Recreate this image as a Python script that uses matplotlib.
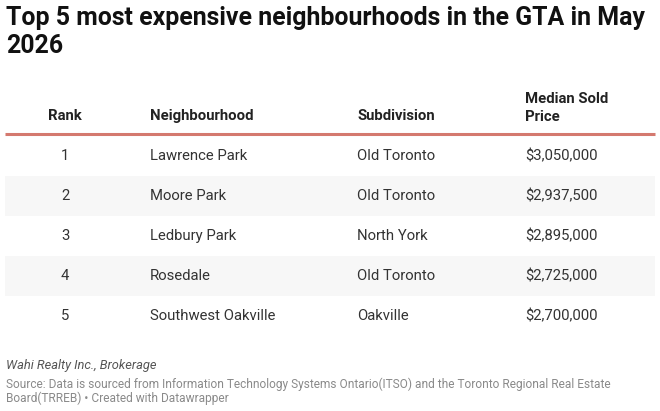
import matplotlib.pyplot as plt
from matplotlib.patches import Rectangle

plt.rcParams['font.family'] = ['Roboto', 'DejaVu Sans']

# Datos de la tabla
rangos = ['1', '2', '3', '4', '5']
barrios = ['Lawrence Park', 'Moore Park', 'Ledbury Park', 'Rosedale', 'Southwest Oakville']
subdivisiones = ['Old Toronto', 'Old Toronto', 'North York', 'Old Toronto', 'Oakville']
precios = ['$3,050,000', '$2,937,500', '$2,895,000', '$2,725,000', '$2,700,000']

titulo = 'Top 5 most expensive neighbourhoods in the GTA in May\n2026'
encabezados = ['Rank', 'Neighbourhood', 'Subdivision', 'Median Sold\nPrice']

fig = plt.figure(figsize=(6.6, 4.11), dpi=100)
ax = fig.add_axes([0, 0, 1, 1])
ax.set_xlim(0, 660)
ax.set_ylim(411, 0)
ax.axis('off')

# Título
ax.text(6, 6, titulo, fontsize=17.9, fontweight='bold', color='#111111',
        va='top', ha='left', linespacing=1.2)

# Encabezados
fs = 10.7
y_enc = 116
ax.text(65, y_enc, encabezados[0], fontsize=fs, fontweight='bold', color='#222222', ha='center', va='center')
ax.text(150, y_enc, encabezados[1], fontsize=fs, fontweight='bold', color='#222222', ha='left', va='center')
ax.text(357, y_enc, encabezados[2], fontsize=fs, fontweight='bold', color='#222222', ha='left', va='center')
ax.text(525, y_enc + 8, encabezados[3], fontsize=fs, fontweight='bold', color='#222222',
        ha='left', va='bottom', linespacing=1.35)

# Línea roja bajo encabezado
ax.plot([5, 655], [134, 134], color='#d4796f', linewidth=2.2, solid_capstyle='butt')

# Filas
alto = 40
y0 = 136
for i in range(len(rangos)):
    top = y0 + i * alto
    if i % 2 == 1:
        ax.add_patch(Rectangle((5, top), 650, alto, facecolor='#f7f7f7', edgecolor='none'))
    yc = top + alto / 2
    ax.text(65, yc, rangos[i], fontsize=fs, color='#333333', ha='center', va='center')
    ax.text(150, yc, barrios[i], fontsize=fs, color='#333333', ha='left', va='center')
    ax.text(357, yc, subdivisiones[i], fontsize=fs, color='#333333', ha='left', va='center')
    ax.text(525, yc, precios[i], fontsize=fs, color='#333333', ha='left', va='center')

# Pie
ax.text(6, 365, 'Wahi Realty Inc., Brokerage', fontsize=9.3, style='italic', color='#555555',
        ha='left', va='center')
ax.text(6, 384, 'Source: Data is sourced from Information Technology Systems Ontario(ITSO) and the Toronto Regional Real Estate',
        fontsize=8.55, color='#8a8a8a', ha='left', va='center')
ax.text(6, 398, 'Board(TRREB) • Created with Datawrapper',
        fontsize=8.55, color='#8a8a8a', ha='left', va='center')

fig.savefig('out.png', dpi=100, facecolor='white')
